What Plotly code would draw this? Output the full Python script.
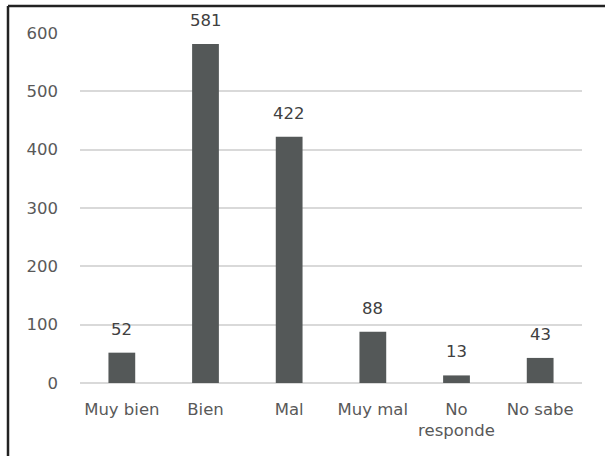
import plotly.graph_objects as go

categories = ["Muy bien", "Bien", "Mal", "Muy mal", "No<br>responde", "No sabe"]
values = [52, 581, 422, 88, 13, 43]
y_ticks = [0, 100, 200, 300, 400, 500, 600]

W, H = 605, 456
L, R, T, B = 80, 23, 33, 73
plot_w = W - L - R
plot_h = H - T - B

FONT = "DejaVu Sans"
TEXT = "#595959"

fig = go.Figure(
    go.Bar(
        x=categories,
        y=values,
        marker=dict(color="#545858", line=dict(width=0)),
        hoverinfo="skip",
    )
)

# value labels above each bar
for c, v in zip(categories, values):
    fig.add_annotation(
        x=c, y=v, text=str(v), showarrow=False,
        yanchor="bottom", yshift=12,
        font=dict(family=FONT, size=16.5, color="#404040"),
    )

# frame: top and left edges
def px_x(p):
    return (p - L) / plot_w

def px_y(p):
    return (H - B - p) / plot_h

border = dict(color="#222222", width=2.5)
fig.add_shape(type="line", xref="paper", yref="paper",
              x0=px_x(8), x1=px_x(W + 5), y0=px_y(6), y1=px_y(6), line=border)
fig.add_shape(type="line", xref="paper", yref="paper",
              x0=px_x(8), x1=px_x(8), y0=px_y(6), y1=px_y(H + 5), line=border)

fig.update_layout(
    width=W, height=H,
    margin=dict(l=L, r=R, t=T, b=B),
    paper_bgcolor="white", plot_bgcolor="white",
    bargap=0.68,
    showlegend=False,
    font=dict(family=FONT, size=16.5, color=TEXT),
)
fig.update_xaxes(
    showgrid=False, showline=False, zeroline=False,
    ticks="", ticklabelstandoff=14,
    tickfont=dict(family=FONT, size=16.5, color=TEXT),
)
fig.update_yaxes(
    range=[0, 600], tickvals=y_ticks,
    showgrid=True, gridcolor="#d9d9d9", gridwidth=1.5,
    zeroline=True, zerolinecolor="#d9d9d9", zerolinewidth=1.5,
    showline=False, ticks="", ticklabelstandoff=21,
    tickfont=dict(family=FONT, size=16.5, color=TEXT),
)

fig.write_html("out.html")
